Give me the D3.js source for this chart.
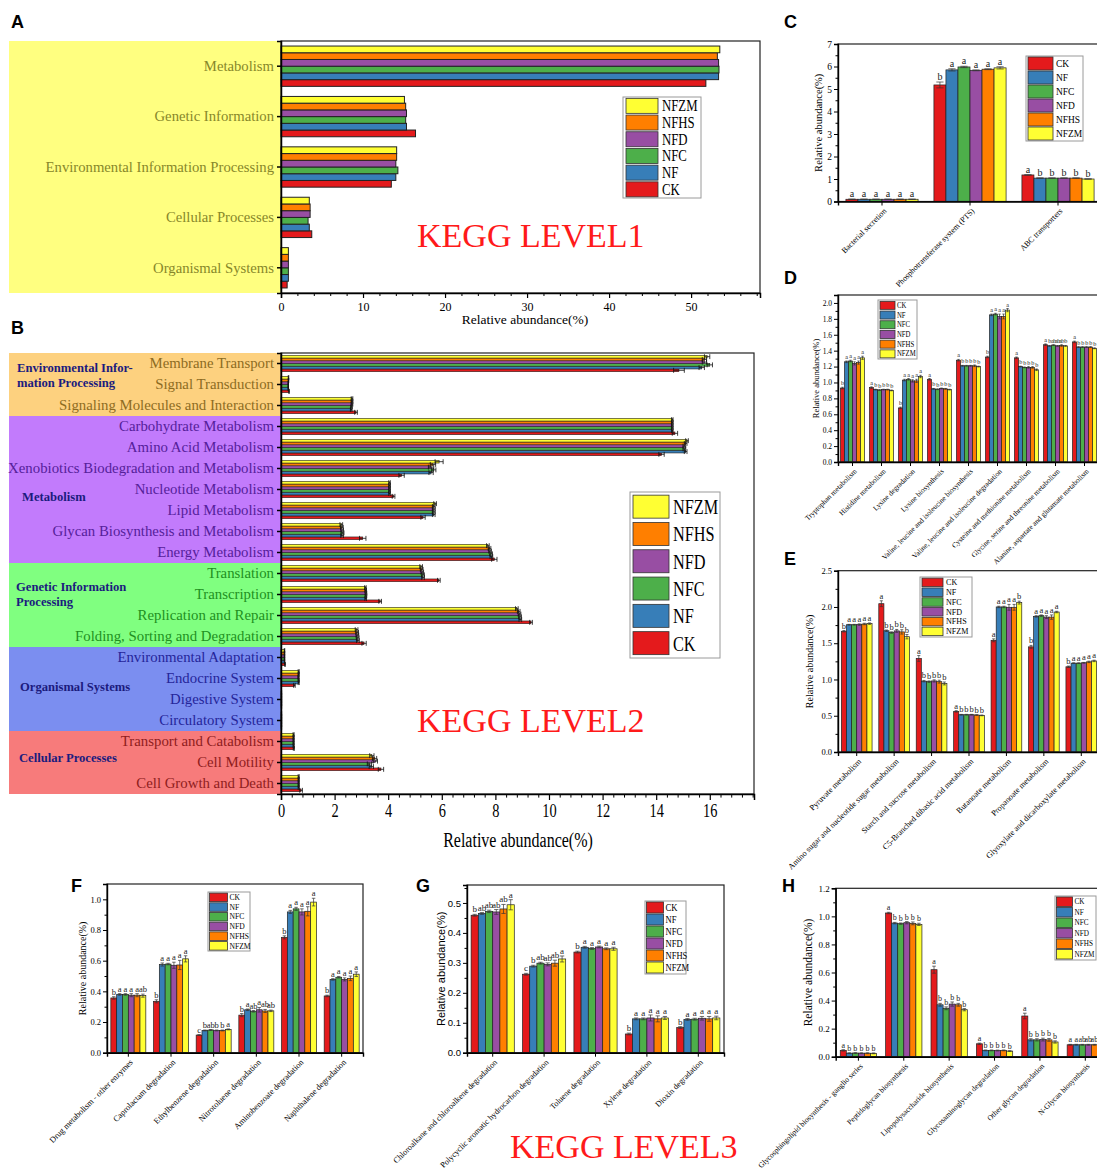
<!DOCTYPE html>
<html>
<head>
<meta charset="utf-8">
<script src="https://cdn.jsdelivr.net/npm/d3@7"></script>
<style>
  body { margin: 0; background: #fff; }
  svg { display: block; }
</style>
</head>
<body>
<svg id="fig" width="1097" height="1176"></svg>
<script>
// ---------- treatment groups ----------
const groups = ["CK", "NF", "NFC", "NFD", "NFHS", "NFZM"];
const groupColors = ["#e41a1c", "#377eb8", "#4daf4a", "#984ea3", "#ff7f00", "#ffff33"];

// ---------- KEGG level 1 (values per category: CK, NF, NFC, NFD, NFHS, NFZM) ----------
const level1Categories = ["Metabolism", "Genetic Information", "Environmental Information Processing",
  "Cellular Processes", "Organismal Systems"];
const level1Values = [
  [51.8, 53.35, 53.4, 53.35, 53.2, 53.5],
  [16.4, 15.3, 15.2, 15.3, 15.2, 15.05],
  [13.45, 14.0, 14.25, 14.0, 14.1, 14.1],
  [3.75, 3.45, 3.3, 3.55, 3.55, 3.45],
  [0.75, 0.9, 0.9, 0.9, 0.9, 0.9]
];
const level1Ticks = [0, 10, 20, 30, 40, 50];

// ---------- KEGG level 2 ----------
const level2Categories = ["Membrane Transport", "Signal Transduction", "Signaling Molecules and Interaction",
  "Carbohydrate Metabolism", "Amino Acid Metabolism", "Xenobiotics Biodegradation and Metabolism",
  "Nucleotide Metabolism", "Lipid Metabolism", "Glycan Biosynthesis and Metabolism", "Energy Metabolism",
  "Translation", "Transcription", "Replication and Repair", "Folding, Sorting and Degradation",
  "Environmental Adaptation", "Endocrine System", "Digestive System", "Circulatory System",
  "Transport and Catabolism", "Cell Motility", "Cell Growth and Death"];
const level2Section = [0, 0, 0, 1, 1, 1, 1, 1, 1, 1, 2, 2, 2, 2, 3, 3, 3, 3, 4, 4, 4];
const level2SectionTitles = [["Environmental Infor-", "mation Processing"], ["Metabolism"],
  ["Genetic Information", "Processing"], ["Organismal Systems"], ["Cellular Processes"]];
const level2Values = [
  [14.85, 15.7, 16.0, 15.8, 15.8, 15.9],
  [0.3, 0.27, 0.27, 0.27, 0.28, 0.28],
  [2.8, 2.62, 2.63, 2.65, 2.65, 2.65],
  [14.7, 14.6, 14.6, 14.6, 14.6, 14.6],
  [14.2, 15.1, 15.05, 15.05, 15.1, 15.15],
  [4.5, 5.6, 5.7, 5.6, 5.67, 5.9],
  [4.2, 4.05, 4.05, 4.05, 4.05, 4.05],
  [5.3, 5.7, 5.7, 5.7, 5.7, 5.75],
  [3.05, 2.28, 2.3, 2.28, 2.27, 2.25],
  [7.96, 7.85, 7.84, 7.8, 7.78, 7.72],
  [5.89, 5.3, 5.3, 5.27, 5.25, 5.23],
  [3.7, 3.16, 3.17, 3.17, 3.16, 3.15],
  [9.33, 8.93, 8.92, 8.9, 8.87, 8.8],
  [3.1, 2.87, 2.86, 2.85, 2.84, 2.82],
  [0.15, 0.13, 0.13, 0.13, 0.13, 0.13],
  [0.5, 0.66, 0.66, 0.65, 0.66, 0.66],
  [0.02, 0.02, 0.02, 0.02, 0.02, 0.02],
  [0.02, 0.02, 0.02, 0.02, 0.02, 0.02],
  [0.48, 0.47, 0.47, 0.47, 0.47, 0.47],
  [3.73, 3.37, 3.3, 3.52, 3.49, 3.39],
  [0.75, 0.66, 0.66, 0.66, 0.66, 0.66]
];
const level2Errors = [
  [0.2, 0.1, 0.1, 0.08, 0.08, 0.1],
  [0.01, 0.01, 0.01, 0.01, 0.01, 0.01],
  [0.05, 0.03, 0.03, 0.03, 0.03, 0.03],
  [0.1, 0.03, 0.03, 0.03, 0.03, 0.03],
  [0.1, 0.05, 0.05, 0.05, 0.05, 0.05],
  [0.1, 0.08, 0.08, 0.1, 0.1, 0.15],
  [0.05, 0.03, 0.03, 0.03, 0.03, 0.03],
  [0.08, 0.05, 0.05, 0.05, 0.05, 0.05],
  [0.12, 0.05, 0.05, 0.05, 0.05, 0.05],
  [0.1, 0.05, 0.05, 0.05, 0.05, 0.05],
  [0.05, 0.05, 0.05, 0.05, 0.05, 0.05],
  [0.05, 0.03, 0.03, 0.03, 0.03, 0.03],
  [0.05, 0.05, 0.05, 0.05, 0.05, 0.05],
  [0.08, 0.05, 0.05, 0.05, 0.05, 0.05],
  [0.01, 0.01, 0.01, 0.01, 0.01, 0.01],
  [0.03, 0.02, 0.02, 0.02, 0.02, 0.02],
  [0.005, 0.005, 0.005, 0.005, 0.005, 0.005],
  [0.005, 0.005, 0.005, 0.005, 0.005, 0.005],
  [0.02, 0.02, 0.02, 0.02, 0.02, 0.02],
  [0.1, 0.08, 0.08, 0.08, 0.08, 0.08],
  [0.05, 0.02, 0.02, 0.02, 0.02, 0.02]
];
const level2Ticks = [0, 2, 4, 6, 8, 10, 12, 14, 16];

// ---------- C: membrane transport pathways ----------
const transportCategories = ["Bacterial secretion", "Phosphotransferase system (PTS)", "ABC transporters"];
const transportValues = [
  [0.1, 0.1, 0.1, 0.1, 0.1, 0.1],
  [5.18, 5.85, 5.98, 5.83, 5.88, 5.94],
  [1.18, 1.04, 1.04, 1.04, 1.04, 1.0]
];
const transportErrors = [
  [0.01, 0.01, 0.01, 0.01, 0.01, 0.01],
  [0.13, 0.05, 0.03, 0.02, 0.02, 0.05],
  [0.01, 0.01, 0.01, 0.01, 0.01, 0.01]
];
const transportLetters = [
  ["a", "a", "a", "a", "a", "a"],
  ["b", "a", "a", "a", "a", "a"],
  ["a", "b", "b", "b", "b", "b"]
];

// ---------- D: amino acid metabolism pathways ----------
const aminoCategories = ["Tryptophan metabolism", "Histidine metabolism", "Lysine degradation",
  "Lysine biosynthesis", "Valine, leucine and isoleucine biosynthesis",
  "Valine, leucine and isoleucine degradation", "Cysteine and methionine metabolism",
  "Glycine, serine and threonine metabolism", "Alanine, aspartate and glutamate metabolism"];
const aminoValues = [
  [0.93, 1.26, 1.27, 1.24, 1.25, 1.31],
  [0.935, 0.91, 0.905, 0.91, 0.91, 0.9],
  [0.68, 1.03, 1.04, 1.02, 1.02, 1.075],
  [1.04, 0.92, 0.915, 0.925, 0.92, 0.91],
  [1.28, 1.21, 1.21, 1.21, 1.21, 1.2],
  [1.32, 1.85, 1.86, 1.83, 1.83, 1.91],
  [1.31, 1.2, 1.19, 1.19, 1.19, 1.16],
  [1.475, 1.46, 1.47, 1.46, 1.465, 1.46],
  [1.51, 1.445, 1.445, 1.445, 1.445, 1.43]
];
const aminoErrors = [
  [0.01, 0.01, 0.01, 0.02, 0.02, 0.02],
  [0.01, 0.005, 0.005, 0.005, 0.005, 0.005],
  [0.01, 0.01, 0.01, 0.015, 0.02, 0.015],
  [0.01, 0.005, 0.005, 0.005, 0.005, 0.005],
  [0.01, 0.005, 0.005, 0.005, 0.01, 0.005],
  [0.01, 0.01, 0.01, 0.03, 0.03, 0.02],
  [0.01, 0.005, 0.005, 0.01, 0.01, 0.01],
  [0.01, 0.005, 0.005, 0.005, 0.01, 0.005],
  [0.01, 0.005, 0.005, 0.005, 0.005, 0.005]
];
const aminoLetters = [
  ["b", "a", "a", "a", "a", "a"],
  ["a", "b", "b", "b", "b", "b"],
  ["b", "a", "a", "a", "a", "a"],
  ["a", "b", "b", "b", "b", "b"],
  ["a", "b", "b", "b", "b", "b"],
  ["b", "a", "a", "a", "a", "a"],
  ["a", "b", "b", "b", "b", "b"],
  ["a", "b", "ab", "ab", "ab", "b"],
  ["a", "b", "b", "b", "b", "b"]
];

// ---------- E: carbohydrate metabolism pathways ----------
const carbCategories = ["Pyruvate metabolism", "Amino sugar and nucleotide sugar metabolism",
  "Starch and sucrose metabolism", "C5-Branched dibasic acid metabolism", "Butanoate metabolism",
  "Propanoate metabolism", "Glyoxylate and dicarboxylate metabolism"];
const carbValues = [
  [1.665, 1.755, 1.755, 1.757, 1.765, 1.77],
  [2.045, 1.672, 1.647, 1.67, 1.656, 1.59],
  [1.29, 0.977, 0.97, 0.98, 0.97, 0.945],
  [0.56, 0.514, 0.514, 0.514, 0.51, 0.505],
  [1.54, 2.0, 2.0, 1.995, 1.995, 2.06],
  [1.45, 1.87, 1.88, 1.86, 1.86, 1.93],
  [1.175, 1.225, 1.225, 1.23, 1.243, 1.256]
];
const carbErrors = [
  [0.01, 0.005, 0.005, 0.01, 0.01, 0.01],
  [0.04, 0.01, 0.01, 0.02, 0.03, 0.03],
  [0.04, 0.01, 0.01, 0.015, 0.02, 0.02],
  [0.01, 0.005, 0.005, 0.005, 0.005, 0.005],
  [0.02, 0.01, 0.01, 0.04, 0.04, 0.02],
  [0.02, 0.01, 0.01, 0.02, 0.03, 0.01],
  [0.01, 0.005, 0.005, 0.005, 0.01, 0.01]
];
const carbLetters = [
  ["b", "a", "a", "a", "a", "a"],
  ["a", "b", "b", "b", "b", "b"],
  ["a", "b", "b", "b", "b", "b"],
  ["a", "b", "b", "b", "b", "b"],
  ["a", "a", "a", "a", "a", "b"],
  ["b", "a", "a", "a", "a", "a"],
  ["b", "a", "a", "a", "a", "a"]
];

// ---------- F: xenobiotics degradation pathways (1) ----------
const xenoCategories = ["Drug metabolism - other enzymes", "Caprolactam degradation",
  "Ethylbenzene degradation", "Nitrotoluene degradation", "Aminobenzoate degradation",
  "Naphthalene degradation"];
const xenoValues = [
  [0.357, 0.38, 0.38, 0.375, 0.375, 0.372],
  [0.335, 0.575, 0.578, 0.57, 0.572, 0.612],
  [0.115, 0.145, 0.148, 0.145, 0.145, 0.152],
  [0.245, 0.28, 0.27, 0.28, 0.272, 0.273],
  [0.752, 0.918, 0.938, 0.918, 0.922, 0.982],
  [0.37, 0.478, 0.492, 0.478, 0.485, 0.512]
];
const xenoErrors = [
  [0.008, 0.005, 0.005, 0.01, 0.01, 0.01],
  [0.01, 0.01, 0.005, 0.02, 0.03, 0.02],
  [0.003, 0.003, 0.003, 0.003, 0.003, 0.003],
  [0.01, 0.005, 0.005, 0.015, 0.01, 0.005],
  [0.01, 0.01, 0.01, 0.02, 0.03, 0.025],
  [0.005, 0.005, 0.005, 0.01, 0.015, 0.015]
];
const xenoLetters = [
  ["b", "a", "a", "a", "a", "ab"],
  ["b", "a", "a", "a", "a", "a"],
  ["c", "b", "ab", "b", "b", "a"],
  ["b", "a", "ab", "a", "ab", "ab"],
  ["b", "a", "a", "a", "a", "a"],
  ["b", "a", "a", "a", "a", "a"]
];

// ---------- G: xenobiotics degradation pathways (2) ----------
const degradCategories = ["Chloroalkane and chloroalkene degradation",
  "Polycyclic aromatic hydrocarbon degradation", "Toluene degradation", "Xylene degradation",
  "Dioxin degradation"];
const degradValues = [
  [0.459, 0.465, 0.472, 0.47, 0.48, 0.494],
  [0.262, 0.289, 0.299, 0.295, 0.299, 0.313],
  [0.336, 0.352, 0.348, 0.353, 0.347, 0.347],
  [0.0625, 0.113, 0.113, 0.116, 0.113, 0.116],
  [0.084, 0.111, 0.112, 0.115, 0.113, 0.116]
];
const degradErrors = [
  [0.003, 0.003, 0.004, 0.008, 0.015, 0.017],
  [0.003, 0.003, 0.003, 0.005, 0.01, 0.01],
  [0.003, 0.003, 0.003, 0.003, 0.003, 0.005],
  [0.003, 0.003, 0.003, 0.01, 0.01, 0.005],
  [0.003, 0.003, 0.003, 0.006, 0.008, 0.006]
];
const degradLetters = [
  ["b", "ab", "ab", "ab", "ab", "a"],
  ["c", "b", "ab", "ab", "ab", "a"],
  ["b", "a", "a", "a", "a", "a"],
  ["b", "a", "a", "a", "a", "a"],
  ["b", "a", "a", "a", "a", "a"]
];

// ---------- H: glycan biosynthesis and metabolism pathways ----------
const glycanCategories = ["Glycosphingolipid biosynthesis - ganglio series", "Peptidoglycan biosynthesis",
  "Lipopolysaccharide biosynthesis", "Glycosaminoglycan degradation", "Other glycan degradation",
  "N-Glycan biosynthesis"];
const glycanValues = [
  [0.045, 0.025, 0.026, 0.025, 0.025, 0.024],
  [1.024, 0.952, 0.948, 0.955, 0.95, 0.943],
  [0.62, 0.37, 0.345, 0.375, 0.37, 0.335],
  [0.092, 0.045, 0.045, 0.044, 0.045, 0.04],
  [0.29, 0.12, 0.12, 0.122, 0.12, 0.105],
  [0.085, 0.085, 0.085, 0.085, 0.085, 0.085]
];
const glycanErrors = [
  [0.005, 0.003, 0.003, 0.003, 0.003, 0.003],
  [0.005, 0.005, 0.005, 0.008, 0.01, 0.008],
  [0.025, 0.01, 0.01, 0.015, 0.01, 0.008],
  [0.005, 0.003, 0.003, 0.003, 0.003, 0.003],
  [0.02, 0.008, 0.008, 0.01, 0.01, 0.008],
  [0.003, 0.003, 0.003, 0.003, 0.003, 0.003]
];
const glycanLetters = [
  ["a", "b", "b", "b", "b", "b"],
  ["a", "b", "b", "b", "b", "b"],
  ["a", "b", "b", "b", "b", "b"],
  ["a", "b", "b", "b", "b", "b"],
  ["a", "b", "b", "b", "b", "b"],
  ["a", "a", "ab", "ab", "ab", "ab"]
];

// ================= drawing =================
const serif = "'Liberation Serif','Times New Roman',serif";
const sans = "'Liberation Sans',Arial,sans-serif";
const svg = d3.select("#fig");
svg.append("rect").attr("width", 1097).attr("height", 1176).attr("fill", "#fff");

function txt(parent, x, y, str, o = {}) {
  let tr = `translate(${x},${y})`;
  if (o.rot) tr += ` rotate(${o.rot})`;
  if (o.sx) tr += ` scale(${o.sx},1)`;
  return parent.append("text")
    .attr("transform", tr)
    .attr("text-anchor", o.anchor || "start")
    .attr("font-family", o.family || serif)
    .attr("font-size", o.size || 12)
    .attr("font-weight", o.weight || "normal")
    .attr("fill", o.fill || "#000")
    .text(str);
}

function legend(parent, o) {
  const g = parent.append("g").attr("transform", `translate(${o.x},${o.y})`);
  g.append("rect").attr("width", o.w).attr("height", o.h)
    .attr("fill", "#fff").attr("stroke", "#9a9a9a").attr("stroke-width", 1);
  o.order.forEach((name, i) => {
    const j = groups.indexOf(name);
    const top = o.pad + i * o.row;
    g.append("rect").attr("x", o.sx0).attr("y", top + (o.row - o.swH) / 2)
      .attr("width", o.swW).attr("height", o.swH)
      .attr("fill", groupColors[j]).attr("stroke", "#333").attr("stroke-width", 0.8);
    txt(g, o.sx0 + o.swW + o.gap, top + o.row / 2 + o.font * 0.34, name,
      { size: o.font, sx: o.textSx });
  });
}

// ---------- horizontal grouped bars (A, B) ----------
function horizontalPanel(cfg) {
  const g = svg.append("g");
  const y = d3.scaleBand().domain(cfg.categories).range([cfg.top, cfg.bottom])
    .paddingInner(cfg.pad).paddingOuter(cfg.pad / 2);
  const ys = d3.scaleBand().domain(groups.slice().reverse()).range([0, y.bandwidth()]);
  const x = d3.scaleLinear().domain([0, cfg.xMax]).range([cfg.left, cfg.right]);

  if (cfg.background) cfg.background(g, y);

  const rows = cfg.categories.flatMap((c, i) => groups.map((s, j) => ({
    c, s, j, v: cfg.values[i][j], e: cfg.errors ? cfg.errors[i][j] : 0
  })));
  g.append("g").selectAll("rect").data(rows).join("rect")
    .attr("x", x(0)).attr("y", d => y(d.c) + ys(d.s))
    .attr("width", d => x(d.v) - x(0)).attr("height", ys.bandwidth())
    .attr("fill", d => groupColors[d.j]).attr("stroke", "#222").attr("stroke-width", cfg.barStroke);

  if (cfg.errors) {
    const eg = g.append("g").attr("stroke", "#111").attr("stroke-width", 0.8);
    rows.forEach(d => {
      const cy = y(d.c) + ys(d.s) + ys.bandwidth() / 2;
      const h = ys.bandwidth() * 0.9;
      eg.append("line").attr("x1", x(d.v - d.e)).attr("x2", x(d.v + d.e)).attr("y1", cy).attr("y2", cy);
      eg.append("line").attr("x1", x(d.v + d.e)).attr("x2", x(d.v + d.e)).attr("y1", cy - h).attr("y2", cy + h);
      eg.append("line").attr("x1", x(d.v - d.e)).attr("x2", x(d.v - d.e)).attr("y1", cy - h).attr("y2", cy + h);
    });
  }

  // frame
  g.append("rect").attr("x", cfg.left).attr("y", cfg.top)
    .attr("width", cfg.right - cfg.left).attr("height", cfg.bottom - cfg.top)
    .attr("fill", "none").attr("stroke", "#222").attr("stroke-width", 1.2);

  // x axis
  const xa = g.append("g").attr("transform", `translate(0,${cfg.bottom})`)
    .call(d3.axisBottom(x).tickValues(cfg.ticks).tickSize(cfg.tickLen).tickFormat(d3.format("d")));
  xa.select(".domain").attr("stroke-width", 1.5);
  xa.selectAll(".tick line").attr("stroke-width", 1.2);
  xa.selectAll("text").attr("font-family", serif).attr("font-size", cfg.tickFont)
    .attr("y", cfg.tickLen + 4).attr("dy", "0.71em")
    .attr("transform", cfg.tickSx ? `scale(${cfg.tickSx},1)` : null);
  g.append("g").attr("transform", `translate(0,${cfg.bottom})`)
    .call(d3.axisBottom(x).tickValues(d3.range(0, cfg.xMax, cfg.minor).filter(v => !cfg.ticks.some(t => Math.abs(t - v) < 1e-6)))
      .tickSize(cfg.tickLen * 0.6).tickFormat(""))
    .call(a => a.select(".domain").remove())
    .selectAll(".tick line").attr("stroke-width", 1);

  // y axis ticks at category centres
  const ya = g.append("g").attr("transform", `translate(${cfg.left},0)`)
    .call(d3.axisLeft(y).tickSize(4).tickFormat(""));
  ya.select(".domain").attr("stroke-width", 1.5);
  ya.selectAll(".tick line").attr("stroke-width", 1.5);

  cfg.categories.forEach((c, i) => {
    txt(g, cfg.left - 7, y(c) + y.bandwidth() / 2 + cfg.labelFont * 0.33, c,
      { anchor: "end", size: cfg.labelFont, fill: cfg.labelColor(i) });
  });

  txt(g, cfg.titleX, cfg.titleY, "Relative abundance(%)",
    { anchor: "middle", size: cfg.titleFont, sx: cfg.tickSx });
  return { g, x, y };
}

// ---------- vertical grouped bars (C–H) ----------
function verticalPanel(cfg) {
  const g = svg.append("g");
  const x = d3.scaleBand().domain(cfg.categories).range([cfg.left, cfg.right])
    .paddingInner(cfg.pad).paddingOuter(cfg.pad / 2);
  const xs = d3.scaleBand().domain(groups).range([0, x.bandwidth()]);
  const y = d3.scaleLinear().domain([0, cfg.yMax]).range([cfg.bottom, cfg.top]);

  const rows = cfg.categories.flatMap((c, i) => groups.map((s, j) => ({
    c, s, j, v: cfg.values[i][j], e: cfg.errors[i][j], l: cfg.letters[i][j]
  })));
  g.append("g").selectAll("rect").data(rows).join("rect")
    .attr("x", d => x(d.c) + xs(d.s)).attr("y", d => y(d.v))
    .attr("width", xs.bandwidth()).attr("height", d => y(0) - y(d.v))
    .attr("fill", d => groupColors[d.j]).attr("stroke", "#222").attr("stroke-width", 0.7);

  const eg = g.append("g").attr("stroke", "#333").attr("stroke-width", 0.7);
  rows.forEach(d => {
    const cx = x(d.c) + xs(d.s) + xs.bandwidth() / 2;
    const w = xs.bandwidth() * 0.3;
    eg.append("line").attr("x1", cx).attr("x2", cx).attr("y1", y(d.v - d.e)).attr("y2", y(d.v + d.e));
    eg.append("line").attr("x1", cx - w).attr("x2", cx + w).attr("y1", y(d.v + d.e)).attr("y2", y(d.v + d.e));
    eg.append("line").attr("x1", cx - w).attr("x2", cx + w).attr("y1", y(d.v - d.e)).attr("y2", y(d.v - d.e));
  });

  g.append("g").selectAll("text").data(rows).join("text")
    .attr("x", d => x(d.c) + xs(d.s) + xs.bandwidth() / 2)
    .attr("y", d => y(d.v + d.e) - 2)
    .attr("text-anchor", "middle").attr("font-family", serif)
    .attr("font-size", cfg.letterFont).attr("fill", "#222")
    .attr("letter-spacing", cfg.letterSpacing || null)
    .text(d => d.l);

  // frame
  g.append("rect").attr("x", cfg.left).attr("y", cfg.top)
    .attr("width", cfg.right - cfg.left).attr("height", cfg.bottom - cfg.top)
    .attr("fill", "none").attr("stroke", "#222").attr("stroke-width", 1.2);

  // y axis
  const fmt = d3.format(cfg.fmt);
  const yt = d3.range(0, cfg.yMax + 1e-9, cfg.step);
  const ya = g.append("g").attr("transform", `translate(${cfg.left},0)`)
    .call(d3.axisLeft(y).tickValues(yt).tickSize(4).tickFormat(fmt));
  ya.select(".domain").attr("stroke-width", 1.4);
  ya.selectAll(".tick line").attr("stroke-width", 1);
  ya.selectAll("text").attr("font-family", cfg.yFamily || serif).attr("font-size", cfg.tickFont).attr("x", -6);
  g.append("g").attr("transform", `translate(${cfg.left},0)`)
    .call(d3.axisLeft(y).tickValues(d3.range(cfg.step / 2, cfg.yMax, cfg.step)).tickSize(2.5).tickFormat(""))
    .call(a => a.select(".domain").remove());

  // x axis with slanted labels
  const xa = g.append("g").attr("transform", `translate(0,${cfg.bottom})`)
    .call(d3.axisBottom(x).tickSize(4));
  xa.select(".domain").attr("stroke-width", 1.4);
  xa.selectAll(".tick line").attr("stroke-width", 1);
  xa.selectAll("text")
    .attr("x", 0).attr("y", 0).attr("dy", "0.35em")
    .attr("transform", "translate(3,8) rotate(-45)")
    .attr("text-anchor", "end")
    .attr("font-family", serif).attr("font-size", cfg.catFont);

  txt(g, cfg.titleX, (cfg.top + cfg.bottom) / 2, "Relative abundance(%)",
    { anchor: "middle", size: cfg.titleFont, rot: -90, family: cfg.yFamily || serif });

  legend(g, Object.assign({ order: groups }, cfg.legend));
  return g;
}

// ---------- panel letters ----------
[["A", 11, 28], ["B", 11, 334], ["C", 784, 28], ["D", 784, 284], ["E", 784, 565],
 ["F", 71, 892], ["G", 416, 892], ["H", 782, 892]].forEach(([t, x, y]) =>
  txt(svg, x, y, t, { family: sans, size: 18, weight: "bold" }));

// ---------- A ----------
const panelA = horizontalPanel({
  categories: level1Categories, values: level1Values,
  left: 281, right: 760, top: 41, bottom: 293, pad: 0.2, xMax: 58.4,
  ticks: level1Ticks, minor: 2, tickLen: 5, tickFont: 12, barStroke: 1,
  labelFont: 14.7, labelColor: () => "#87872a",
  titleX: 525, titleY: 324, titleFont: 13.5,
  background: (g) => g.append("rect").attr("x", 9).attr("y", 41).attr("width", 272).attr("height", 252)
    .attr("fill", "#ffff80")
});
legend(panelA.g, { order: groups.slice().reverse(), x: 623, y: 97, w: 78, h: 101, pad: 0.5, row: 16.7,
  sx0: 3, swW: 32, swH: 15, gap: 4, font: 16, textSx: 0.8 });
txt(panelA.g, 417, 247, "KEGG LEVEL1", { size: 34, fill: "#ff1a1a" });

// ---------- B ----------
const sectionFill = ["#fdd17f", "#c27bfc", "#80ff80", "#7b8ef0", "#f77b7b"];
const sectionInk = ["#8d6c1f", "#55209a", "#219021", "#25259a", "#8f1d1d"];
const sectionTitlePos = [[17, 368], [22, 497], [16, 587], [20, 687], [19, 758]];
const panelB = horizontalPanel({
  categories: level2Categories, values: level2Values, errors: level2Errors,
  left: 281, right: 754, top: 353, bottom: 794, pad: 0.22, xMax: 17.65,
  ticks: level2Ticks, minor: 0.4, tickLen: 6, tickFont: 18, tickSx: 0.8, barStroke: 0.6,
  labelFont: 14.8, labelColor: i => sectionInk[level2Section[i]],
  titleX: 518, titleY: 847, titleFont: 20,
  background: (g, y) => {
    const half = (y.step() - y.bandwidth()) / 2;
    sectionFill.forEach((f, s) => {
      const cats = level2Categories.filter((c, i) => level2Section[i] === s);
      const y0 = y(cats[0]) - half, y1 = y(cats[cats.length - 1]) + y.bandwidth() + half;
      g.append("rect").attr("x", 9).attr("y", y0).attr("width", 272).attr("height", y1 - y0).attr("fill", f);
    });
    level2SectionTitles.forEach((lines, s) => {
      lines.forEach((ln, k) => txt(g, sectionTitlePos[s][0], sectionTitlePos[s][1] + 4 + k * 15, ln,
        { size: 12.6, weight: "bold", fill: "#1b1b7e" }));
    });
  }
});
legend(panelB.g, { order: groups.slice().reverse(), x: 630, y: 492, w: 90, h: 166, pad: 1, row: 27.3,
  sx0: 3, swW: 36, swH: 23, gap: 4, font: 22, textSx: 0.74 });
txt(panelB.g, 417, 732, "KEGG LEVEL2", { size: 34, fill: "#ff1a1a" });

// ---------- C ----------
verticalPanel({
  categories: transportCategories, values: transportValues, errors: transportErrors, letters: transportLetters,
  left: 838, right: 1102, top: 44, bottom: 201.5, pad: 0.18, yMax: 7, step: 1, fmt: "d",
  tickFont: 9.5, catFont: 8, letterFont: 10, titleX: 822, titleFont: 10.5,
  legend: { x: 1026, y: 56, w: 57, h: 85, pad: 0.5, row: 14, sx0: 2, swW: 25, swH: 13, gap: 3, font: 10.5, textSx: 0.9 }
});

// ---------- D ----------
verticalPanel({
  categories: aminoCategories, values: aminoValues, errors: aminoErrors, letters: aminoLetters,
  left: 838, right: 1099, top: 295, bottom: 462, pad: 0.17, yMax: 2.1, step: 0.2, fmt: ".1f",
  tickFont: 7.5, catFont: 7.3, letterFont: 6.2, letterSpacing: -0.4, titleX: 819, titleFont: 8.5,
  legend: { x: 878, y: 300, w: 39, h: 59, pad: 0.5, row: 9.7, sx0: 2, swW: 15, swH: 8, gap: 2, font: 7.5, textSx: 0.9 }
});

// ---------- E ----------
verticalPanel({
  categories: carbCategories, values: carbValues, errors: carbErrors, letters: carbLetters,
  left: 838, right: 1100, top: 570.7, bottom: 752, pad: 0.18, yMax: 2.5, step: 0.5, fmt: ".1f",
  tickFont: 8.5, catFont: 8.2, letterFont: 8.5, titleX: 813, titleFont: 10,
  legend: { x: 920, y: 577, w: 52, h: 60, pad: 0.5, row: 9.8, sx0: 2, swW: 21, swH: 8.5, gap: 3, font: 8.5, textSx: 0.95 }
});

// ---------- F ----------
verticalPanel({
  categories: xenoCategories, values: xenoValues, errors: xenoErrors, letters: xenoLetters,
  left: 107, right: 363, top: 884, bottom: 1052.7, pad: 0.18, yMax: 1.1, step: 0.2, fmt: ".1f",
  tickFont: 8.5, catFont: 8.4, letterFont: 8.5, titleX: 86, titleFont: 10,
  legend: { x: 208, y: 892, w: 42, h: 59, pad: 0.5, row: 9.7, sx0: 1.5, swW: 18, swH: 8.5, gap: 2, font: 8, textSx: 0.95 }
});

// ---------- G ----------
verticalPanel({
  categories: degradCategories, values: degradValues, errors: degradErrors, letters: degradLetters,
  left: 467, right: 724, top: 885, bottom: 1052.7, pad: 0.16, yMax: 0.56, step: 0.1, fmt: ".1f",
  tickFont: 9.5, catFont: 8.2, letterFont: 9, titleX: 445, titleFont: 11, yFamily: sans,
  legend: { x: 645, y: 901, w: 41, h: 73, pad: 0.5, row: 12, sx0: 1.5, swW: 17, swH: 11, gap: 2, font: 9.5, textSx: 0.9 }
});
txt(svg, 510, 1158, "KEGG LEVEL3", { size: 34, fill: "#ff1a1a" });

// ---------- H ----------
verticalPanel({
  categories: glycanCategories, values: glycanValues, errors: glycanErrors, letters: glycanLetters,
  left: 835.7, right: 1108, top: 888.3, bottom: 1056.7, pad: 0.2, yMax: 1.2, step: 0.2, fmt: ".1f",
  tickFont: 9, catFont: 7.6, letterFont: 8, titleX: 812, titleFont: 11.5,
  legend: { x: 1055, y: 896, w: 41, h: 64, pad: 0.5, row: 10.5, sx0: 1.5, swW: 16, swH: 9.5, gap: 2, font: 8, textSx: 0.9 }
});
</script>
</body>
</html>
